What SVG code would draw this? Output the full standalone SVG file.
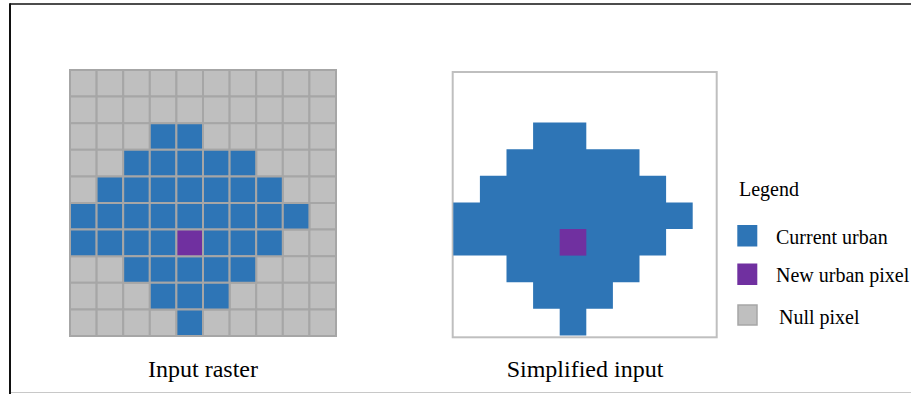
<svg xmlns="http://www.w3.org/2000/svg" width="911" height="394" viewBox="0 0 911 394">
<style>
.g{fill:#bfbfbf}
.b{fill:#2e75b6}
.p{fill:#7030a0}
.cell{stroke:#a6a6a6;stroke-width:2}
.cell rect,rect.cell{vector-effect:non-scaling-stroke}
.t{font-family:"Liberation Serif","Times New Roman",serif;fill:#000}
</style>
<rect width="911" height="394" fill="#fff"/>
<g id="frame">
<line x1="10" y1="4" x2="911" y2="4" stroke="#111" stroke-width="1.6"/>
<line x1="10" y1="3.2" x2="10" y2="394" stroke="#111" stroke-width="2"/>
<line x1="11" y1="392.5" x2="911" y2="392.5" stroke="#c8c8c8" stroke-width="1.2"/>
</g>
<g id="input-raster">
<g transform="translate(70,70) scale(26.6)">
<g class="cell g">
<rect x="0" y="0" width="1" height="1"/><rect x="1" y="0" width="1" height="1"/><rect x="2" y="0" width="1" height="1"/><rect x="3" y="0" width="1" height="1"/><rect x="4" y="0" width="1" height="1"/><rect x="5" y="0" width="1" height="1"/><rect x="6" y="0" width="1" height="1"/><rect x="7" y="0" width="1" height="1"/><rect x="8" y="0" width="1" height="1"/><rect x="9" y="0" width="1" height="1"/>
<rect x="0" y="1" width="1" height="1"/><rect x="1" y="1" width="1" height="1"/><rect x="2" y="1" width="1" height="1"/><rect x="3" y="1" width="1" height="1"/><rect x="4" y="1" width="1" height="1"/><rect x="5" y="1" width="1" height="1"/><rect x="6" y="1" width="1" height="1"/><rect x="7" y="1" width="1" height="1"/><rect x="8" y="1" width="1" height="1"/><rect x="9" y="1" width="1" height="1"/>
<rect x="0" y="2" width="1" height="1"/><rect x="1" y="2" width="1" height="1"/><rect x="2" y="2" width="1" height="1"/><rect x="5" y="2" width="1" height="1"/><rect x="6" y="2" width="1" height="1"/><rect x="7" y="2" width="1" height="1"/><rect x="8" y="2" width="1" height="1"/><rect x="9" y="2" width="1" height="1"/>
<rect x="0" y="3" width="1" height="1"/><rect x="1" y="3" width="1" height="1"/><rect x="7" y="3" width="1" height="1"/><rect x="8" y="3" width="1" height="1"/><rect x="9" y="3" width="1" height="1"/>
<rect x="0" y="4" width="1" height="1"/><rect x="8" y="4" width="1" height="1"/><rect x="9" y="4" width="1" height="1"/>
<rect x="9" y="5" width="1" height="1"/>
<rect x="8" y="6" width="1" height="1"/><rect x="9" y="6" width="1" height="1"/>
<rect x="0" y="7" width="1" height="1"/><rect x="1" y="7" width="1" height="1"/><rect x="7" y="7" width="1" height="1"/><rect x="8" y="7" width="1" height="1"/><rect x="9" y="7" width="1" height="1"/>
<rect x="0" y="8" width="1" height="1"/><rect x="1" y="8" width="1" height="1"/><rect x="2" y="8" width="1" height="1"/><rect x="6" y="8" width="1" height="1"/><rect x="7" y="8" width="1" height="1"/><rect x="8" y="8" width="1" height="1"/><rect x="9" y="8" width="1" height="1"/>
<rect x="0" y="9" width="1" height="1"/><rect x="1" y="9" width="1" height="1"/><rect x="2" y="9" width="1" height="1"/><rect x="3" y="9" width="1" height="1"/><rect x="5" y="9" width="1" height="1"/><rect x="6" y="9" width="1" height="1"/><rect x="7" y="9" width="1" height="1"/><rect x="8" y="9" width="1" height="1"/><rect x="9" y="9" width="1" height="1"/>
</g>
<g class="cell b">
<rect x="3" y="2" width="1" height="1"/><rect x="4" y="2" width="1" height="1"/>
<rect x="2" y="3" width="1" height="1"/><rect x="3" y="3" width="1" height="1"/><rect x="4" y="3" width="1" height="1"/><rect x="5" y="3" width="1" height="1"/><rect x="6" y="3" width="1" height="1"/>
<rect x="1" y="4" width="1" height="1"/><rect x="2" y="4" width="1" height="1"/><rect x="3" y="4" width="1" height="1"/><rect x="4" y="4" width="1" height="1"/><rect x="5" y="4" width="1" height="1"/><rect x="6" y="4" width="1" height="1"/><rect x="7" y="4" width="1" height="1"/>
<rect x="0" y="5" width="1" height="1"/><rect x="1" y="5" width="1" height="1"/><rect x="2" y="5" width="1" height="1"/><rect x="3" y="5" width="1" height="1"/><rect x="4" y="5" width="1" height="1"/><rect x="5" y="5" width="1" height="1"/><rect x="6" y="5" width="1" height="1"/><rect x="7" y="5" width="1" height="1"/><rect x="8" y="5" width="1" height="1"/>
<rect x="0" y="6" width="1" height="1"/><rect x="1" y="6" width="1" height="1"/><rect x="2" y="6" width="1" height="1"/><rect x="3" y="6" width="1" height="1"/><rect x="5" y="6" width="1" height="1"/><rect x="6" y="6" width="1" height="1"/><rect x="7" y="6" width="1" height="1"/>
<rect x="2" y="7" width="1" height="1"/><rect x="3" y="7" width="1" height="1"/><rect x="4" y="7" width="1" height="1"/><rect x="5" y="7" width="1" height="1"/><rect x="6" y="7" width="1" height="1"/>
<rect x="3" y="8" width="1" height="1"/><rect x="4" y="8" width="1" height="1"/><rect x="5" y="8" width="1" height="1"/>
<rect x="4" y="9" width="1" height="1"/>
</g>
<rect class="cell p" x="4" y="6" width="1" height="1"/>
</g>
<text class="t" x="203" y="377" font-size="24" text-anchor="middle">Input raster</text>
</g>
<g id="simplified-input">
<rect x="452.7" y="72" width="264" height="265.3" fill="#fff" stroke="#bfbfbf" stroke-width="2"/>
<g transform="translate(453.3,69.4) scale(26.6)">
<path class="b" d="M3,2H5V3H7V4H8V5H9V6H8V7H7V8H6V9H5V10H4V9H3V8H2V7H0V5H1V4H2V3H3Z"/>
<rect class="p" x="4" y="6" width="1" height="1"/>
</g>
<text class="t" x="585" y="377" font-size="24" text-anchor="middle">Simplified input</text>
</g>
<g id="legend">
<text class="t" x="739" y="196" font-size="20">Legend</text>
<rect x="737.3" y="225" width="20" height="21.5" fill="#2e75b6"/>
<text class="t" x="776" y="243.5" font-size="20">Current urban</text>
<rect x="737.3" y="263.5" width="20" height="21.5" fill="#7030a0"/>
<text class="t" x="776" y="281.5" font-size="20">New urban pixel</text>
<rect x="738" y="305" width="19" height="20" fill="#bfbfbf" stroke="#a6a6a6" stroke-width="1.5"/>
<text class="t" x="779" y="323.5" font-size="20">Null pixel</text>
</g>
</svg>
